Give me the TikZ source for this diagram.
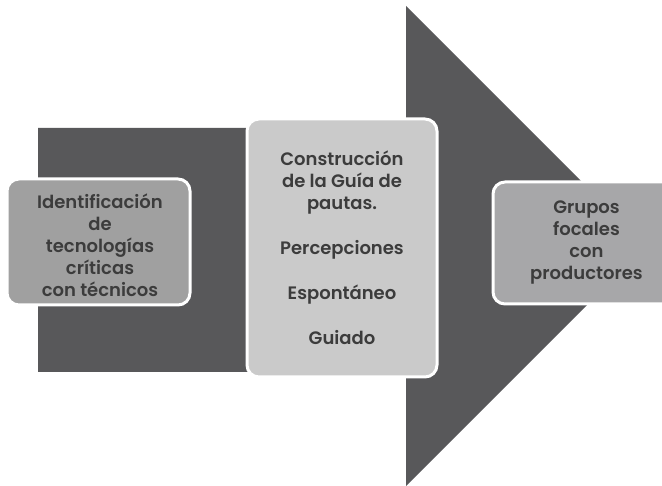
\documentclass[tikz,border=0pt]{standalone}
\usepackage{fontspec}
\setmainfont{Poppins SemiBold}
\usetikzlibrary{calc}
\definecolor{arrowgray}{HTML}{58585A}
\definecolor{boxgray}{HTML}{A0A0A0}
\definecolor{midgray}{HTML}{CACACA}
\definecolor{rightgray}{HTML}{A7A7A9}
\definecolor{textgray}{HTML}{3C3C3C}
\tikzset{
  stepbox/.style={draw=white, line width=3pt, rounded corners=12pt, inner sep=0pt,
    text=textgray, align=center, font=\fontsize{18}{22}\selectfont},
}

\begin{document}
\begin{tikzpicture}[x=1pt,y=-1pt]
        \fill[white] (0,0) rectangle (662,486);
        \useasboundingbox (0,0) rectangle (662,486);

        % big arrow
        \coordinate (A) at (38,128);
        \coordinate (B) at (406,128);
        \coordinate (C) at (406,6);
        \coordinate (D) at (646,246);
        \coordinate (E) at (406,486);
        \coordinate (F) at (406,372);
        \coordinate (G) at (38,372);
        \fill[arrowgray] (A) -- (B) -- (C) -- (D) -- (E) -- (F) -- (G) -- cycle;

        % boxes
        \node[stepbox, fill=boxgray, minimum width=183pt, minimum height=126pt] (ident) at (98.5,242) {};
        \node[text=textgray, align=center, font=\fontsize{18}{22}\selectfont] (identtxt) at (100,245)
            {Identificación\\de\\tecnologías\\críticas\\con técnicos};
        \node[stepbox, fill=midgray, minimum width=190pt, minimum height=258pt] (guia) at (342,248)
            {Construcción\\de la Guía de\\pautas.\\[23pt]Percepciones\\[23pt]Espontáneo\\[23pt]Guiado};
        \node[stepbox, fill=rightgray, minimum width=187pt, minimum height=122pt] (grupos) at (586.5,243)
            {Grupos\\focales\\con\\productores};
\end{tikzpicture}
\end{document}
